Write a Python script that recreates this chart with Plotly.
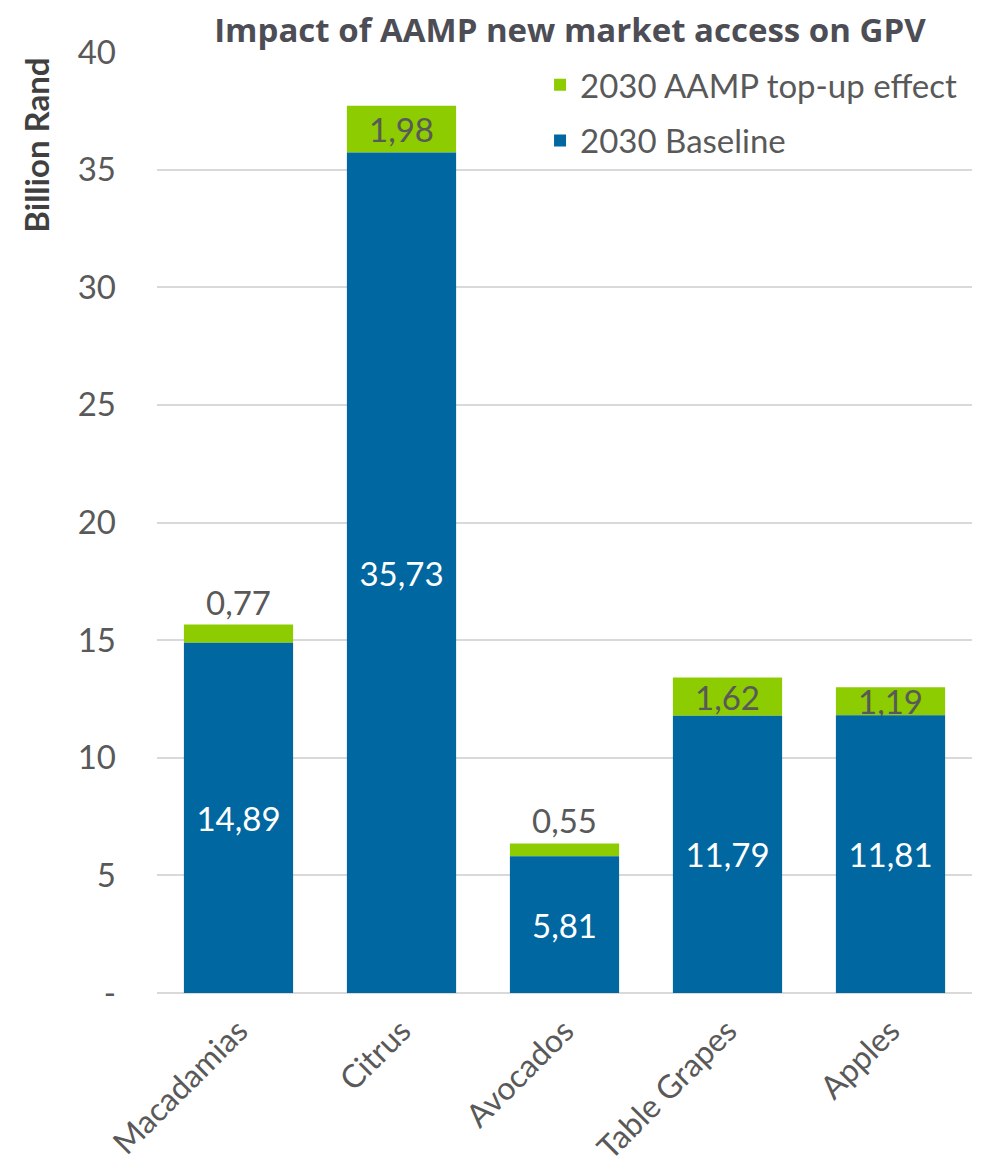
import plotly.graph_objects as go

categories = ["Macadamias", "Citrus", "Avocados", "Table Grapes", "Apples"]
baseline = [14.89, 35.73, 5.81, 11.79, 11.81]
topup = [0.77, 1.98, 0.55, 1.62, 1.19]
tick_vals = [0, 5, 10, 15, 20, 25, 30, 35, 40]
tick_text = ["-", "5", "10", "15", "20", "25", "30", "35", "40"]

BLUE = "#0067A1"
GREEN = "#8CCC00"
GRAY = "#595959"
FONT = "Lato, Open Sans, sans-serif"

def fmt(v):
    return f"{v:.2f}".replace(".", ",")

topup_pos = ["outside" if v < 1 else "inside" for v in topup]

fig = go.Figure()
fig.add_trace(go.Bar(
    x=categories, y=topup, name="2030 AAMP top-up effect",
    marker=dict(color=GREEN, line=dict(width=0)),
    text=[fmt(v) for v in topup], textposition=topup_pos,
    insidetextanchor="middle",
    textfont=dict(color=GRAY, size=33, family=FONT),
    legendgroup="a", legendrank=1,
    base=baseline,
))
fig.add_trace(go.Bar(
    x=categories, y=baseline, name="2030 Baseline",
    marker=dict(color=BLUE, line=dict(width=0)),
    text=[fmt(v) for v in baseline], textposition="inside",
    insidetextanchor="middle",
    textfont=dict(color="white", size=33, family=FONT),
    legendgroup="b", legendrank=2,
))

fig.update_layout(
    barmode="overlay",
    bargap=0.33,
    width=986, height=1175,
    margin=dict(l=157, r=14, t=52, b=182),
    plot_bgcolor="white", paper_bgcolor="white",
    title=dict(text="<b>Impact of AAMP new market access on GPV</b>",
               x=0.578, xanchor="center", y=0.984, yanchor="top",
               font=dict(size=33, color="#4D4D55", family="Open Sans, sans-serif")),
    legend=dict(x=0.47, y=0.995, xanchor="left", yanchor="top",
                traceorder="grouped", tracegroupgap=10,
                font=dict(size=33, color=GRAY, family=FONT),
                bgcolor="rgba(0,0,0,0)"),
    font=dict(family=FONT, color=GRAY),
    annotations=[dict(text="<b>Billion Rand</b>", xref="paper", yref="paper",
                      x=-0.148, y=0.996, xanchor="center", yanchor="top",
                      textangle=-90, showarrow=False,
                      font=dict(size=33, color="#404040", family=FONT))],
)
fig.update_traces(constraintext="none", cliponaxis=False)
fig.update_yaxes(range=[0, 40], tickvals=tick_vals, ticktext=tick_text,
                 showgrid=True, gridcolor="#D9D9D9", gridwidth=1.5,
                 zeroline=True, zerolinecolor="#D9D9D9", zerolinewidth=1.5,
                 tickfont=dict(size=33, color=GRAY, family=FONT),
                 ticks="", ticklen=0, ticklabelstandoff=40, automargin=False)
fig.update_xaxes(tickangle=-45, tickfont=dict(size=32, color=GRAY, family=FONT),
                 showline=False, ticks="", ticklabelstandoff=12, automargin=False)

fig.write_html("out.html")
